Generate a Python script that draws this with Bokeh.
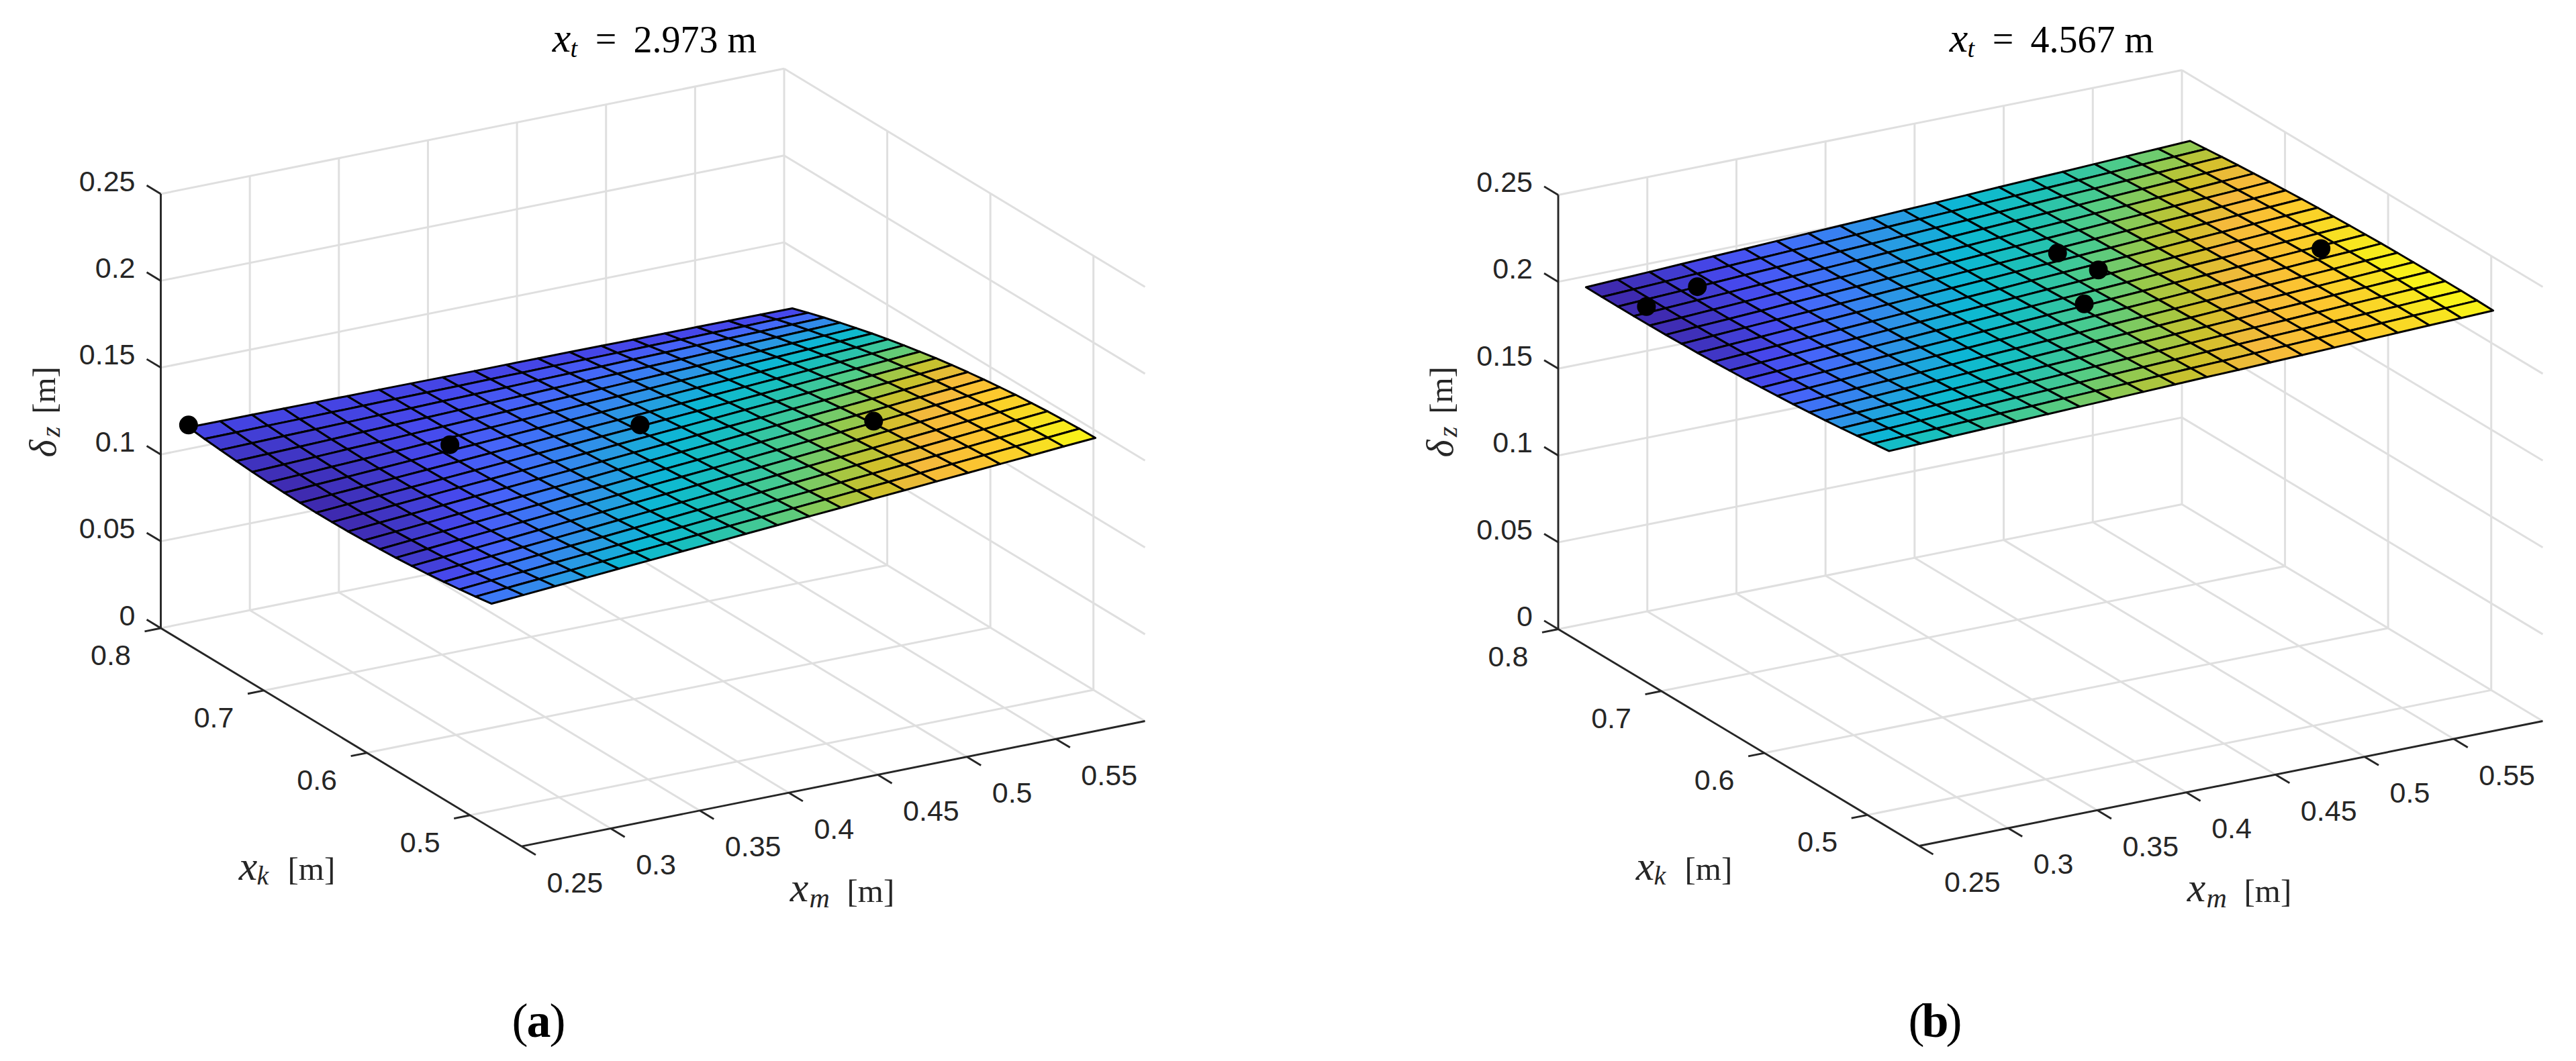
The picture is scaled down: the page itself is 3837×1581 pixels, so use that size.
from bokeh.core.properties import value
from bokeh.embed import file_html
from bokeh.models import Range1d
from bokeh.plotting import figure
from bokeh.resources import INLINE
import math

# ---------- data ----------
xm_grid = [.2540,.2718,.2897,.3075,.3254,.3432,.3611,.3789,.3967,.4146,.4324,.4503,.4681,.4859,.5038,.5216,.5395,.5573,.5752,.5930]
xk_grid = [.7800,.7645,.7491,.7336,.7181,.7026,.6872,.6717,.6562,.6408,.6253,.6098,.5944,.5789,.5634,.5479,.5325,.5170,.5015,.4860]

z_a = [
[.1220,.1219,.1219,.1218,.1217,.1216,.1216,.1215,.1214,.1213,.1213,.1212,.1212,.1211,.1210,.1209,.1209,.1208,.1207,.1206],
[.1209,.1210,.1212,.1213,.1215,.1216,.1218,.1219,.1220,.1222,.1223,.1225,.1226,.1227,.1229,.1230,.1232,.1233,.1235,.1236],
[.1200,.1203,.1207,.1210,.1213,.1217,.1220,.1224,.1227,.1230,.1234,.1237,.1240,.1244,.1247,.1251,.1254,.1257,.1261,.1264],
[.1192,.1197,.1202,.1207,.1213,.1218,.1223,.1228,.1233,.1238,.1244,.1249,.1254,.1259,.1264,.1269,.1275,.1280,.1285,.1290],
[.1185,.1192,.1199,.1206,.1212,.1219,.1226,.1233,.1240,.1247,.1253,.1260,.1267,.1274,.1281,.1288,.1294,.1301,.1308,.1315],
[.1180,.1188,.1197,.1205,.1213,.1222,.1230,.1239,.1247,.1255,.1264,.1272,.1280,.1289,.1297,.1306,.1314,.1322,.1331,.1339],
[.1176,.1186,.1195,.1205,.1215,.1225,.1234,.1244,.1254,.1264,.1273,.1283,.1293,.1303,.1312,.1322,.1332,.1342,.1351,.1361],
[.1174,.1185,.1196,.1207,.1218,.1229,.1240,.1251,.1262,.1273,.1283,.1294,.1305,.1316,.1327,.1338,.1349,.1360,.1371,.1382],
[.1173,.1185,.1197,.1209,.1221,.1233,.1245,.1257,.1269,.1281,.1293,.1305,.1317,.1329,.1341,.1353,.1365,.1377,.1389,.1401],
[.1174,.1187,.1200,.1213,.1226,.1238,.1251,.1264,.1277,.1290,.1303,.1316,.1329,.1342,.1354,.1367,.1380,.1393,.1406,.1419],
[.1176,.1190,.1203,.1217,.1231,.1244,.1258,.1271,.1285,.1299,.1312,.1326,.1340,.1353,.1367,.1380,.1394,.1408,.1421,.1435],
[.1180,.1194,.1208,.1223,.1237,.1251,.1265,.1279,.1294,.1308,.1322,.1336,.1351,.1365,.1379,.1393,.1407,.1422,.1436,.1450],
[.1185,.1200,.1214,.1229,.1244,.1258,.1273,.1287,.1302,.1317,.1331,.1346,.1361,.1375,.1390,.1404,.1419,.1434,.1448,.1463],
[.1191,.1206,.1221,.1236,.1251,.1266,.1281,.1296,.1311,.1326,.1340,.1355,.1370,.1385,.1400,.1415,.1430,.1445,.1460,.1475],
[.1199,.1214,.1229,.1244,.1259,.1275,.1290,.1305,.1320,.1335,.1350,.1365,.1380,.1395,.1410,.1426,.1441,.1456,.1471,.1486],
[.1208,.1223,.1238,.1253,.1268,.1283,.1298,.1313,.1328,.1343,.1359,.1374,.1389,.1404,.1419,.1434,.1449,.1464,.1479,.1494],
[.1219,.1234,.1249,.1264,.1279,.1293,.1308,.1323,.1338,.1353,.1368,.1383,.1398,.1413,.1428,.1442,.1457,.1472,.1487,.1502],
[.1231,.1246,.1260,.1275,.1289,.1304,.1318,.1333,.1348,.1362,.1377,.1391,.1406,.1420,.1435,.1450,.1464,.1479,.1493,.1508],
[.1245,.1259,.1273,.1287,.1301,.1316,.1330,.1344,.1358,.1372,.1386,.1400,.1414,.1428,.1442,.1457,.1471,.1485,.1499,.1513],
[.1260,.1273,.1287,.1300,.1314,.1327,.1341,.1354,.1368,.1381,.1395,.1408,.1422,.1435,.1449,.1462,.1476,.1489,.1503,.1516],
]

z_b = [
[.2032,.2040,.2047,.2055,.2063,.2070,.2078,.2086,.2093,.2101,.2109,.2116,.2124,.2132,.2140,.2147,.2155,.2163,.2170,.2178],
[.2031,.2039,.2047,.2056,.2064,.2072,.2080,.2088,.2097,.2105,.2113,.2121,.2130,.2138,.2146,.2154,.2162,.2171,.2179,.2187],
[.2031,.2040,.2048,.2057,.2066,.2074,.2083,.2092,.2100,.2109,.2118,.2126,.2135,.2144,.2153,.2161,.2170,.2179,.2187,.2196],
[.2031,.2040,.2049,.2058,.2067,.2077,.2086,.2095,.2104,.2113,.2122,.2131,.2140,.2149,.2158,.2168,.2177,.2186,.2195,.2204],
[.2032,.2041,.2051,.2060,.2070,.2079,.2089,.2098,.2107,.2117,.2126,.2136,.2145,.2154,.2164,.2173,.2183,.2192,.2202,.2211],
[.2034,.2044,.2053,.2063,.2073,.2082,.2092,.2102,.2111,.2121,.2131,.2140,.2150,.2160,.2170,.2179,.2189,.2199,.2208,.2218],
[.2037,.2047,.2057,.2067,.2076,.2086,.2096,.2106,.2116,.2126,.2135,.2145,.2155,.2165,.2175,.2185,.2194,.2204,.2214,.2224],
[.2040,.2050,.2060,.2070,.2080,.2090,.2100,.2110,.2120,.2130,.2140,.2150,.2160,.2170,.2180,.2190,.2200,.2210,.2220,.2230],
[.2044,.2054,.2064,.2074,.2084,.2094,.2104,.2114,.2124,.2134,.2145,.2155,.2165,.2175,.2185,.2195,.2205,.2215,.2225,.2235],
[.2049,.2059,.2069,.2079,.2089,.2099,.2109,.2119,.2129,.2139,.2149,.2159,.2169,.2179,.2189,.2199,.2209,.2219,.2229,.2239],
[.2054,.2064,.2074,.2084,.2094,.2104,.2114,.2124,.2134,.2144,.2154,.2163,.2173,.2183,.2193,.2203,.2213,.2223,.2233,.2243],
[.2061,.2071,.2080,.2090,.2100,.2110,.2119,.2129,.2139,.2149,.2158,.2168,.2178,.2188,.2197,.2207,.2217,.2227,.2236,.2246],
[.2068,.2078,.2087,.2097,.2106,.2116,.2125,.2135,.2144,.2154,.2163,.2173,.2182,.2192,.2201,.2211,.2220,.2230,.2239,.2249],
[.2075,.2084,.2094,.2103,.2112,.2121,.2131,.2140,.2149,.2158,.2168,.2177,.2186,.2195,.2205,.2214,.2223,.2232,.2242,.2251],
[.2084,.2093,.2102,.2111,.2119,.2128,.2137,.2146,.2155,.2164,.2172,.2181,.2190,.2199,.2208,.2216,.2225,.2234,.2243,.2252],
[.2093,.2101,.2110,.2118,.2127,.2135,.2144,.2152,.2160,.2169,.2177,.2186,.2194,.2202,.2211,.2219,.2228,.2236,.2245,.2253],
[.2103,.2111,.2119,.2127,.2135,.2142,.2150,.2158,.2166,.2174,.2182,.2190,.2198,.2206,.2213,.2221,.2229,.2237,.2245,.2253],
[.2114,.2121,.2129,.2136,.2143,.2151,.2158,.2165,.2173,.2180,.2187,.2195,.2202,.2209,.2216,.2224,.2231,.2238,.2246,.2253],
[.2125,.2132,.2138,.2145,.2152,.2158,.2165,.2172,.2178,.2185,.2192,.2198,.2205,.2212,.2219,.2225,.2232,.2239,.2245,.2252],
[.2137,.2143,.2149,.2155,.2161,.2167,.2173,.2179,.2185,.2191,.2197,.2202,.2208,.2214,.2220,.2226,.2232,.2238,.2244,.2250],
]

dots_a_xm = [.2540,.3508,.4366,.5234]
dots_a_xk = [.7800,.6937,.6575,.5809]
dots_a_z  = [.1233,.1230,.1297,.1415]

dots_b_xm = [.2653,.2987,.4617,.4656,.4366,.5661]
dots_b_xk = [.7409,.7492,.6816,.6487,.6123,.6065]
dots_b_z  = [.2037,.2053,.2153,.2165,.2159,.2232]

xm_ticks = [.25,.30,.35,.40,.45,.50,.55]
xm_labels = ["0.25","0.3","0.35","0.4","0.45","0.5","0.55"]
xk_ticks = [.8,.7,.6,.5]
xk_labels = ["0.8","0.7","0.6","0.5"]
z_ticks = [0,.05,.10,.15,.20,.25]
z_labels = ["0","0.05","0.1","0.15","0.2","0.25"]
titles = ["2.973 m", "4.567 m"]
panel_letters = ["a", "b"]

# ---------- style ----------
XM_MIN, XM_MAX = .25, .60
XK_MIN, XK_MAX = .45, .80
Z_MAX = .25
GRID = "#dfdfdf"
AXIS = "#262626"
SANS = value("Liberation Sans")
SERIF = value("Liberation Serif")

PARULA = [
 (0.00,(0x3e,0x26,0xa8)),(0.08,(0x40,0x38,0xc8)),(0.14,(0x46,0x48,0xec)),(0.20,(0x46,0x64,0xf8)),
 (0.26,(0x3a,0x7c,0xf4)),(0.33,(0x2a,0x98,0xe4)),(0.42,(0x0c,0xb8,0xd4)),(0.51,(0x1c,0xc0,0xb8)),
 (0.60,(0x50,0xcc,0x88)),(0.67,(0x96,0xc9,0x4c)),(0.73,(0xcf,0xc1,0x2a)),(0.79,(0xf4,0xb9,0x3c)),
 (0.87,(0xfd,0xc6,0x2e)),(0.94,(0xf8,0xe0,0x22)),(1.00,(0xf9,0xfb,0x15)),
]

def parula(f):
    f = max(0.0, min(1.0, f))
    for (f0, c0), (f1, c1) in zip(PARULA, PARULA[1:]):
        if f <= f1:
            w = (f - f0) / (f1 - f0)
            return "#%02x%02x%02x" % tuple(round(a + (b - a) * w) for a, b in zip(c0, c1))
    return "#f9fb15"

W, H = 3830, 1575
p = figure(width=W, height=H, output_backend="svg", toolbar_location=None,
           x_range=Range1d(0, W), y_range=Range1d(H, 0), min_border=0)
p.xaxis.visible = False
p.yaxis.visible = False
p.grid.visible = False
p.outline_line_color = None
p.background_fill_color = "white"

BASE = 0.30  # baseline correction of alphabetic text, in em


def panel(ox, oy, dvec, bvec, zpx, Z, dm, dk, dz, title, letter, dx, letter_cx):
    def proj(xm, xk, z):
        u = (xm - XM_MIN) / (XM_MAX - XM_MIN)
        v = (XK_MAX - xk) / (XK_MAX - XK_MIN)
        return (ox + u * dvec[0] + v * bvec[0],
                oy + u * dvec[1] + v * bvec[1] - z / Z_MAX * zpx)

    # gridlines
    xs, ys = [], []
    def seg(a, b):
        xs.append([a[0], b[0]]); ys.append([a[1], b[1]])
    for xm in xm_ticks[1:]:
        seg(proj(xm, XK_MIN, 0), proj(xm, XK_MAX, 0))
        seg(proj(xm, XK_MAX, 0), proj(xm, XK_MAX, Z_MAX))
    for xk in xk_ticks:
        seg(proj(XM_MIN, xk, 0), proj(XM_MAX, xk, 0))
        seg(proj(XM_MAX, xk, 0), proj(XM_MAX, xk, Z_MAX))
    seg(proj(XM_MAX, XK_MIN, 0), proj(XM_MAX, XK_MAX, 0))
    for z in z_ticks[1:]:
        seg(proj(XM_MIN, XK_MAX, z), proj(XM_MAX, XK_MAX, z))
        seg(proj(XM_MAX, XK_MAX, z), proj(XM_MAX, XK_MIN, z))
    p.multi_line(xs, ys, line_color=GRID, line_width=3.0)

    # axes and ticks
    xs, ys = [], []
    seg(proj(XM_MIN, XK_MAX, 0), proj(XM_MIN, XK_MAX, Z_MAX))
    seg(proj(XM_MIN, XK_MAX, 0), proj(XM_MIN, XK_MIN, 0))
    seg(proj(XM_MIN, XK_MIN, 0), proj(XM_MAX, XK_MIN, 0))
    bl = math.hypot(*bvec)
    ex = (bvec[0] / bl, bvec[1] / bl)
    fx, fy = dvec[0] + 0.0, dvec[1] + 0.0
    fl = math.hypot(fx, fy)
    TL = 24.5
    for z in z_ticks:
        a = proj(XM_MIN, XK_MAX, z)
        seg(a, (a[0] - ex[0] * TL, a[1] - ex[1] * TL))
    for xm in xm_ticks:
        a = proj(xm, XK_MIN, 0)
        seg(a, (a[0] + ex[0] * TL, a[1] + ex[1] * TL))
    for xk in xk_ticks:
        a = proj(XM_MIN, xk, 0)
        seg(a, (a[0] - fx / fl * TL, a[1] - fy / fl * TL))
    p.multi_line(xs, ys, line_color=AXIS, line_width=2.9)

    # surface
    zmin = min(min(r) for r in Z)
    zmax = max(max(r) for r in Z)
    pxs, pys, cols = [], [], []
    for j in range(len(xk_grid) - 1):
        for i in range(len(xm_grid) - 1):
            corners = [(i, j), (i + 1, j), (i + 1, j + 1), (i, j + 1)]
            pts = [proj(xm_grid[a], xk_grid[b], Z[b][a]) for a, b in corners]
            pxs.append([q[0] for q in pts])
            pys.append([q[1] for q in pts])
            zc = sum(Z[b][a] for a, b in corners) / 4
            cols.append(parula((zc - zmin) / (zmax - zmin)))
    p.patches(pxs, pys, fill_color=cols, line_color="black", line_width=3.0, line_join="round")

    # dots
    dp = [proj(a, b, c) for a, b, c in zip(dm, dk, dz)]
    p.scatter([q[0] for q in dp], [q[1] for q in dp], size=28, marker="circle",
              fill_color="black", line_color="black", line_width=0)

    # tick labels
    pts = [proj(XM_MIN, XK_MAX, z) for z in z_ticks]
    p.text([q[0] - 38 for q in pts], [q[1] - 19 for q in pts], text=z_labels, text_font=SANS,
           text_font_size="43px", text_color=AXIS, text_align="right", text_baseline="middle")
    pts = [proj(XM_MIN, xk, 0) for xk in xk_ticks]
    p.text([q[0] - 74.5 for q in pts], [q[1] + 40.5 for q in pts], text=xk_labels, text_font=SANS,
           text_font_size="43px", text_color=AXIS, text_align="center", text_baseline="middle")
    pts = [proj(xm, XK_MIN, 0) for xm in xm_ticks]
    p.text([q[0] + 37.5 for q in pts], [q[1] + 54 for q in pts], text=xm_labels, text_font=SANS,
           text_font_size="43px", text_color=AXIS, text_align="left", text_baseline="middle")

    def t(x, y, s, size, style="normal", align="left", angle=0.0, color="#000000"):
        if angle:
            x -= BASE * size
        else:
            y -= BASE * size
        p.text([x + dx], [y], text=[s], text_font=SERIF, text_font_size=f"{size}px", text_font_style=style,
               text_align=align, text_baseline="alphabetic", angle=angle, text_color=color)

    # title
    t(836, 74, "x", 62, "italic", "center")
    t(849, 83, "t", 38, "italic")
    t(902, 74, "=", 56, "normal", "center")
    t(943, 75, title, 56)

    # axis labels
    t(80, 668, "δ", 56, "italic", "center", math.pi / 2, AXIS)
    t(87, 643, "z", 40, "italic", "center", math.pi / 2, AXIS)
    t(80, 581, "[m]", 49, "normal", "center", math.pi / 2, AXIS)
    t(369, 1308, "x", 62, "italic", "center", 0.0, AXIS)
    t(382, 1316, "k", 40, "italic", "left", 0.0, AXIS)
    t(428, 1309, "[m]", 49, "normal", "left", 0.0, AXIS)
    t(1190, 1340, "x", 62, "italic", "center", 0.0, AXIS)
    t(1205, 1350, "m", 42, "italic", "left", 0.0, AXIS)
    t(1261, 1342, "[m]", 49, "normal", "left", 0.0, AXIS)

    # panel letter
    y0 = 1542 - BASE * 72
    p.text([letter_cx - 28], [y0], text=["("], text_font=SERIF, text_font_size="72px", text_align="center",
           text_baseline="alphabetic", text_color="black")
    p.text([letter_cx], [y0], text=[letter], text_font=SERIF, text_font_size="72px", text_font_style="bold",
           text_align="center", text_baseline="alphabetic", text_color="black")
    p.text([letter_cx + 28], [y0], text=[")"], text_font=SERIF, text_font_size="72px", text_align="center",
           text_baseline="alphabetic", text_color="black")


panel(239.0, 935.5, (928.5, -186.7), (537.5, 325.2), 647.0, z_a, dots_a_xm, dots_a_xk, dots_a_z,
      titles[0], panel_letters[0], 0, 802)
panel(2320.5, 937.0, (929.0, -186.0), (537.5, 323.0), 647.0, z_b, dots_b_xm, dots_b_xk, dots_b_z,
      titles[1], panel_letters[1], 2081, 2882)

open("out.html", "w").write(file_html(p, INLINE))
